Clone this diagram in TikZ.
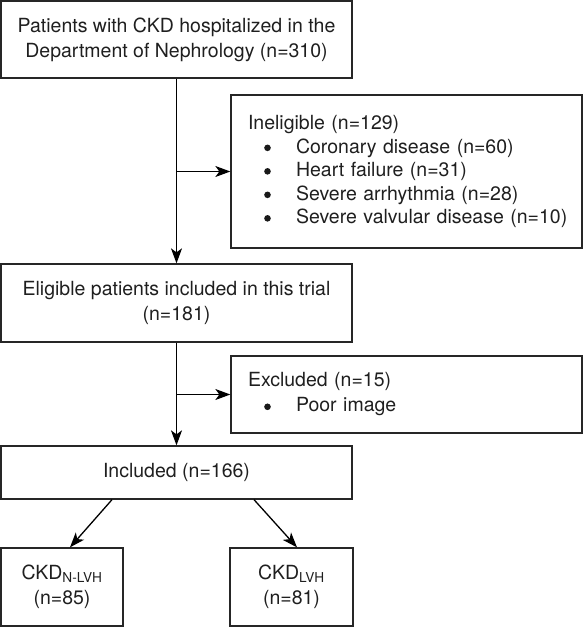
\documentclass[tikz,border=0pt]{standalone}
\usepackage{fontspec}
\setmainfont{TeX Gyre Heros}
\usetikzlibrary{arrows.meta,calc}
\newcommand{\ind}{\hspace*{17pt}}
\newcommand{\bul}{\hspace*{36.5pt}\makebox[0pt][c]{\raisebox{1.9pt}{\tikz\fill[black!90] (0,0) circle[radius=3.3pt];}}\hspace*{28.5pt}}
\begin{document}
\begin{tikzpicture}[x=1pt,y=-1pt,
  box/.style={draw=black!85, line width=1.3pt, inner sep=0pt, text=black!88,
    font=\fontsize{19.5}{25}\selectfont},
  cbox/.style={box, align=center},
  lbox/.style={box, align=left, text width=351pt},
  arr/.style={draw=black, line width=1.3pt, -{Stealth[length=15pt,width=11pt,inset=4pt]}},
  ln/.style={draw=black, line width=1.3pt}]
\useasboundingbox (0,0) rectangle (584,627);

\node[cbox, minimum width=351pt, minimum height=77pt] (b1) at (176.5,39.5)
  {Patients with CKD hospitalized in the\\Department of Nephrology (n=310)};
\node[lbox, minimum width=351pt, minimum height=153pt,
  font=\fontsize{19.5}{23.5}\selectfont] (inel) at (406.5,171.5)
  {\ind Ineligible (n=129)\\
   \bul Coronary disease (n=60)\\
   \bul Heart failure (n=31)\\
   \bul Severe arrhythmia (n=28)\\
   \bul Severe valvular disease (n=10)};
\node[cbox, minimum width=351pt, minimum height=78pt] (elig) at (176.5,303)
  {Eligible patients included in this trial\\(n=181)};
\node[lbox, minimum width=351pt, minimum height=77pt] (excl) at (406.5,394.5)
  {\ind Excluded (n=15)\\ \bul Poor image};
\node[cbox, minimum width=351pt, minimum height=53pt] (inc) at (176.5,472.5)
  {Included (n=166)};
\node[cbox, minimum width=122pt, minimum height=78pt] (nlvh) at (62,587)
  {CKD\textsubscript{N-LVH}\\(n=85)};
\node[cbox, minimum width=123pt, minimum height=78pt] (lvh) at (291.5,587)
  {CKD\textsubscript{LVH}\\(n=81)};

\coordinate (j1) at (b1.south |- inel.west);
\coordinate (j2) at (elig.south |- excl.west);
\draw[arr] (b1.south) -- (elig.north);
\draw[arr] (j1) -- (inel.west);
\draw[arr] (elig.south) -- (inc.north);
\draw[arr] (j2) -- (excl.west);
\draw[arr] ([xshift=-64.5pt]inc.south) -- ([xshift=8pt]nlvh.north);
\draw[arr] ([xshift=77.5pt]inc.south) -- ([xshift=5.5pt]lvh.north);
\end{tikzpicture}
\end{document}
